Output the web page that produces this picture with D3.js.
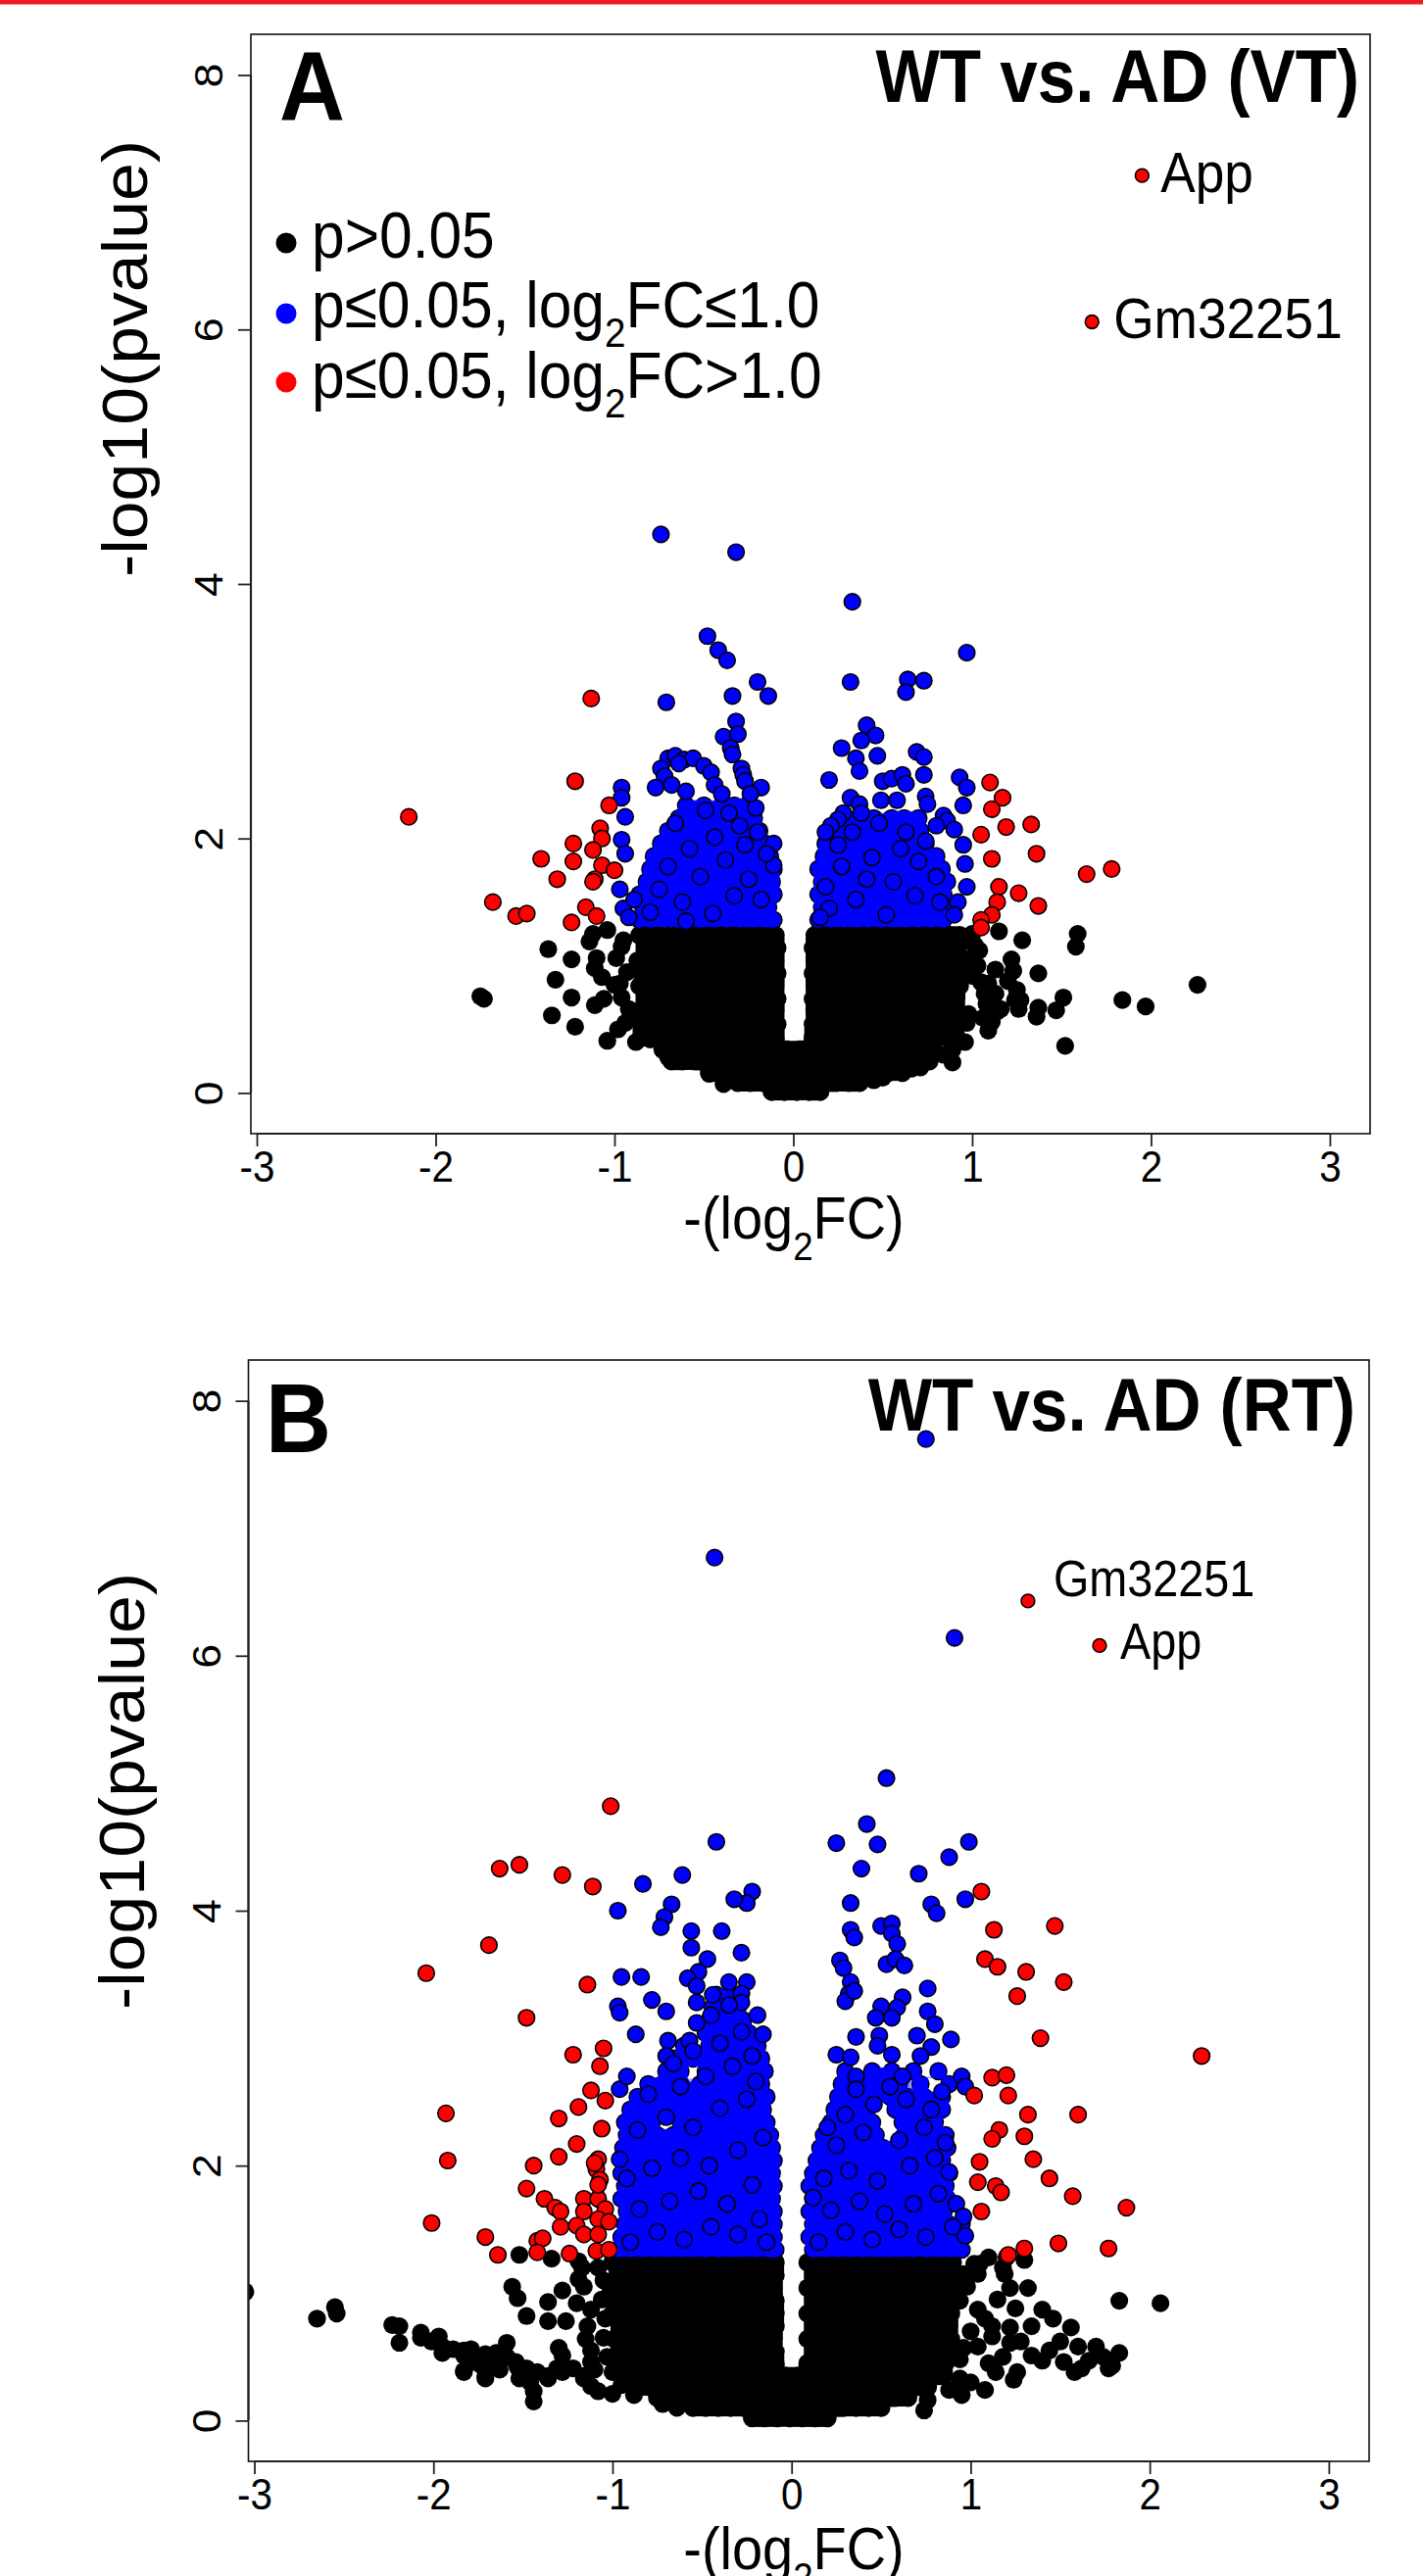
<!DOCTYPE html>
<html><head><meta charset="utf-8">
<script src="https://cdn.jsdelivr.net/npm/d3@7"></script>
<style>
body{margin:0;background:#fff}
svg{display:block}
text{font-family:"Liberation Sans",Arial,Helvetica,sans-serif;fill:#000}
</style></head>
<body><svg id="c" width="1452" height="2629"></svg>
<script>
// ---------------- data ----------------
const xTicks = [-3,-2,-1,0,1,2,3];
const yTicks = [0,2,4,6,8];
const xDomain = [-3.033, 3.225];
const yDomain = [-0.32, 8.32];
const legendLabels = ["p>0.05", "p\u22640.05, log2FC\u22641.0", "p\u22640.05, log2FC>1.0"];
const legendColors = ["#000000", "#0000ff", "#ff0000"];

// Panel A (VT): dense non-significant core, rows of [ -log10 p , [ -log2FC ... ] ]
const vtBlackRows = [
 [1.24,[-0.86,-0.79,-0.73,-0.65,-0.58,-0.52,-0.44,-0.37,-0.31,-0.23,-0.16,-0.10,0.12,0.19,0.25,0.33,0.40,0.46,0.54,0.61,0.67,0.75,0.82,0.88,0.93]],
 [1.14,[-0.83,-0.76,-0.70,-0.62,-0.55,-0.49,-0.41,-0.34,-0.28,-0.20,-0.13,-0.09,0.11,0.16,0.22,0.30,0.37,0.43,0.51,0.57,0.64,0.72,0.78,0.85,0.92]],
 [1.04,[-0.87,-0.79,-0.72,-0.66,-0.58,-0.51,-0.45,-0.37,-0.30,-0.24,-0.16,-0.10,0.12,0.19,0.26,0.33,0.39,0.47,0.54,0.60,0.68,0.75,0.81,0.88,0.93]],
 [0.94,[-0.84,-0.77,-0.69,-0.62,-0.56,-0.48,-0.41,-0.35,-0.27,-0.20,-0.14,-0.09,0.11,0.16,0.23,0.29,0.37,0.44,0.50,0.58,0.65,0.71,0.79,0.86,0.92]],
 [0.84,[-0.86,-0.80,-0.73,-0.65,-0.59,-0.51,-0.44,-0.38,-0.30,-0.23,-0.17,-0.10,0.12,0.19,0.26,0.32,0.40,0.47,0.53,0.61,0.68,0.74,0.82,0.88,0.93]],
 [0.74,[-0.83,-0.76,-0.70,-0.62,-0.55,-0.48,-0.42,-0.34,-0.27,-0.21,-0.13,-0.09,0.11,0.16,0.22,0.30,0.36,0.43,0.51,0.57,0.64,0.72,0.78,0.85,0.91]],
 [0.64,[-0.87,-0.79,-0.72,-0.66,-0.58,-0.51,-0.45,-0.37,-0.30,-0.24,-0.16,-0.10,0.12,0.19,0.26,0.33,0.39,0.47,0.54,0.60,0.68,0.75,0.81,0.88,0.92]],
 [0.54,[-0.85,-0.77,-0.69,-0.63,-0.56,-0.48,-0.41,-0.35,-0.27,-0.20,-0.14,-0.09,0.11,0.16,0.23,0.29,0.37,0.44,0.50,0.58,0.65,0.71,0.79,0.86,0.89]],
 [0.44,[-0.85,-0.80,-0.73,-0.65,-0.59,-0.51,-0.44,-0.38,-0.30,-0.23,-0.17,-0.10,0.11,0.19,0.26,0.32,0.40,0.47,0.53,0.61,0.68,0.74,0.82,0.87]],
 [0.34,[-0.73,-0.66,-0.60,-0.52,-0.45,-0.38,-0.31,-0.24,-0.17,-0.10,-0.03,0.03,0.10,0.17,0.23,0.30,0.37,0.43,0.51,0.57,0.64,0.71,0.78]],
 [0.25,[-0.68,-0.62,-0.55,-0.48,-0.41,-0.35,-0.27,-0.20,-0.14,-0.07,0.00,0.07,0.13,0.20,0.27,0.34,0.40,0.47,0.54,0.61,0.68,0.76]],
 [0.16,[-0.47,-0.41,-0.34,-0.27,-0.21,-0.14,-0.07,-0.01,0.06,0.13,0.19,0.26,0.33,0.40,0.46,0.53,0.61]],
 [0.08,[-0.31,-0.24,-0.17,-0.10,-0.04,0.03,0.10,0.17,0.24,0.31,0.37]],
 [0.01,[-0.12,-0.05,0.02,0.09,0.15]]
];
const vtBlackPts = [
 [-1.37,1.13],[-1.24,1.05],[-1.14,1.19],[-1.12,1.25],[-1.04,1.28],[-1.10,1.06],[-1.11,0.98],[-1.07,0.91],[-1.00,0.85],[-0.99,1.06],
 [-1.33,0.89],[-1.75,0.76],[-1.73,0.74],[-1.24,0.75],[-1.35,0.61],[-1.22,0.52],[-1.11,0.69],[-1.06,0.74],[-1.04,0.41],[-0.85,0.43],
 [-0.80,0.42],[-0.70,0.28],[-0.59,0.28],[-0.91,0.62],[-0.39,0.07],[-0.95,1.20],[-0.93,0.95],[-0.96,0.75],[-0.94,0.55],[-0.98,0.50],
 [-0.96,1.15],[-0.97,0.86],[-0.92,0.66],[-0.67,0.34],[-0.47,0.15],[-0.43,0.17],[-0.88,0.40],[-0.76,0.45],
 [1.15,1.27],[1.28,1.20],[1.59,1.25],[1.58,1.15],[1.22,1.05],[1.13,0.97],[1.23,0.96],[1.37,0.94],[2.26,0.85],[1.03,1.00],
 [1.05,0.87],[1.13,0.78],[1.24,0.73],[1.26,0.66],[1.14,0.64],[1.08,0.70],[1.51,0.75],[1.47,0.65],[1.37,0.67],[1.36,0.60],
 [1.84,0.73],[1.97,0.68],[1.52,0.37],[1.06,0.59],[1.09,0.49],[1.11,0.56],[0.91,0.46],[0.89,0.34],[0.89,0.24],[0.45,0.10],
 [0.50,0.12],[0.66,0.19],[0.71,0.20],[1.00,1.25],[1.02,1.15],[0.98,0.62],[0.96,0.40],[0.97,0.55],[1.01,1.17],[1.04,1.12],
 [1.00,1.06],[0.98,0.99],[1.00,0.92],[1.09,0.86],[1.07,0.78],[1.20,0.88],[1.25,0.81],[1.27,0.73],[1.16,0.66],[0.84,0.30]
];
const vtBlueRows = [
 [1.36,[-0.86,-0.79,-0.72,-0.65,-0.58,-0.51,-0.44,-0.37,-0.30,-0.23,-0.16,-0.11,0.14,0.21,0.28,0.35,0.42,0.49,0.56,0.63,0.70,0.77,0.84]],
 [1.46,[-0.84,-0.77,-0.70,-0.63,-0.56,-0.49,-0.42,-0.35,-0.28,-0.21,-0.14,0.16,0.24,0.31,0.38,0.45,0.52,0.59,0.66,0.73,0.80,0.87]],
 [1.56,[-0.86,-0.79,-0.72,-0.65,-0.58,-0.51,-0.44,-0.37,-0.30,-0.23,-0.16,-0.11,0.14,0.21,0.28,0.35,0.42,0.49,0.56,0.63,0.70,0.77,0.84]],
 [1.66,[-0.82,-0.75,-0.68,-0.61,-0.54,-0.47,-0.40,-0.33,-0.26,-0.19,-0.12,0.16,0.24,0.31,0.38,0.45,0.52,0.59,0.66,0.73,0.80,0.86]],
 [1.76,[-0.80,-0.72,-0.65,-0.58,-0.51,-0.44,-0.37,-0.30,-0.23,-0.16,-0.11,0.14,0.21,0.28,0.35,0.42,0.49,0.56,0.63,0.70,0.77,0.83]],
 [1.86,[-0.78,-0.68,-0.61,-0.54,-0.47,-0.40,-0.33,-0.26,-0.19,-0.13,0.17,0.24,0.31,0.38,0.45,0.52,0.59,0.66,0.73,0.80]],
 [1.96,[-0.74,-0.65,-0.58,-0.51,-0.44,-0.37,-0.30,-0.23,-0.16,0.18,0.25,0.32,0.39,0.46,0.53,0.60,0.67,0.74]],
 [2.06,[-0.70,-0.61,-0.54,-0.47,-0.40,-0.33,-0.26,-0.19,0.22,0.29,0.36,0.43,0.50,0.57,0.64,0.71]],
 [2.16,[-0.64,-0.57,-0.50,-0.43,-0.36,-0.29,-0.22,0.30,0.38,0.45,0.55,0.62,0.70]],
 [2.26,[-0.60,-0.50,-0.40,-0.33,-0.26]]
];
const vtBluePts = [
 [-0.74,4.39],[-0.32,4.25],[0.33,3.86],[-0.48,3.59],[-0.42,3.48],[-0.37,3.40],[0.97,3.46],[-0.20,3.23],[0.32,3.23],[0.64,3.25],
 [0.73,3.24],[0.63,3.15],[-0.34,3.12],[-0.14,3.12],[-0.71,3.07],[-0.32,2.92],[-0.39,2.80],[-0.31,2.82],[0.41,2.89],[0.46,2.81],
 [0.38,2.77],[0.27,2.71],[-0.35,2.71],[-0.34,2.66],[-0.70,2.63],[-0.66,2.65],[-0.61,2.62],[-0.56,2.63],[-0.64,2.59],[0.69,2.68],
 [0.73,2.64],[0.35,2.63],[0.47,2.65],[0.37,2.53],[0.20,2.46],[0.93,2.48],[0.97,2.40],[0.95,2.26],[-0.74,2.55],[-0.50,2.57],
 [-0.46,2.52],[-0.29,2.55],[-0.28,2.50],[-0.44,2.42],[-0.40,2.35],[-0.96,2.40],[-0.96,2.32],[-0.94,2.17],[-0.96,1.99],[-0.94,1.88],
 [-0.72,2.49],[-0.68,2.42],[-0.77,2.40],[-0.60,2.37],[0.50,2.45],[0.55,2.47],[0.61,2.50],[0.63,2.43],[0.73,2.50],[0.74,2.33],
 [0.75,2.27],[0.32,2.32],[0.37,2.27],[0.49,2.30],[0.58,2.30],[0.28,2.20],[0.25,2.15],[0.21,2.10],[0.18,2.05],[0.84,2.18],
 [0.86,2.14],[0.80,2.10],[0.90,2.07],[0.95,1.95],[0.96,1.80],[0.97,1.62],[0.92,1.50],[0.90,1.40],[-0.97,1.60],[-0.95,1.45],
 [-0.92,1.38],[-0.89,1.52],[-0.18,2.40],[-0.21,2.24],[-0.11,1.96],[-0.11,1.79],[-0.27,2.45],[-0.24,2.35],
 [-0.80,1.42],[-0.62,1.50],[-0.45,1.41],[-0.33,1.55],[-0.52,1.70],[-0.70,1.78],[-0.38,1.83],[-0.25,1.68],[-0.58,1.92],[-0.44,2.01],
 [-0.30,2.10],[-0.66,2.12],[-0.18,1.52],[-0.15,1.88],[-0.75,1.60],[-0.49,2.22],[-0.36,2.20],[-0.27,1.95],[-0.60,1.35],[-0.20,2.05],
 [0.20,1.45],[0.35,1.52],[0.52,1.40],[0.68,1.55],[0.80,1.70],[0.27,1.78],[0.44,1.85],[0.60,1.92],[0.74,1.98],[0.33,2.05],
 [0.48,2.12],[0.63,2.05],[0.18,1.62],[0.56,1.66],[0.41,1.68],[0.70,1.82],[0.25,1.95],[0.38,2.20],[0.82,1.50],[0.15,1.38]
];
const vtRedPts = [
 [-1.13,3.10],[-1.22,2.45],[1.10,2.44],[1.17,2.32],[1.11,2.23],[-1.03,2.26],[-2.15,2.17],[1.19,2.09],[1.33,2.11],[1.05,2.03],
 [1.11,1.84],[1.36,1.88],[1.64,1.72],[1.78,1.76],[-1.08,2.08],[-1.07,2.00],[-1.12,1.91],[-1.23,1.96],[-1.41,1.84],[-1.23,1.82],
 [-1.07,1.79],[-1.00,1.75],[-1.32,1.68],[-1.11,1.68],[-1.68,1.50],[-1.55,1.39],[-1.49,1.41],[-1.24,1.34],[-1.16,1.46],[-1.10,1.39],
 [-1.12,1.66],[1.15,1.62],[1.26,1.57],[1.14,1.50],[1.37,1.47],[1.11,1.40],[1.05,1.36],[1.05,1.30]
];
const vtLabelled = [["App",1.95,7.21],["Gm32251",1.67,6.06]];

// Panel B (RT)
const rtBlackRows = [
 [1.24,[-1.00,-0.93,-0.86,-0.80,-0.72,-0.65,-0.59,-0.51,-0.44,-0.38,-0.30,-0.23,-0.16,-0.09,0.09,0.16,0.23,0.30,0.37,0.44,0.51,0.58,0.65,0.72,0.79,0.85,0.90]],
 [1.14,[-0.97,-0.90,-0.83,-0.76,-0.69,-0.62,-0.55,-0.48,-0.41,-0.34,-0.27,-0.20,-0.13,-0.09,0.12,0.19,0.26,0.33,0.40,0.47,0.54,0.61,0.68,0.75,0.82,0.88]],
 [1.04,[-1.01,-0.94,-0.87,-0.79,-0.73,-0.66,-0.58,-0.52,-0.45,-0.37,-0.31,-0.24,-0.16,-0.10,0.09,0.15,0.22,0.29,0.37,0.43,0.50,0.58,0.64,0.71,0.79,0.85,0.90]],
 [0.94,[-0.97,-0.91,-0.83,-0.77,-0.69,-0.62,-0.56,-0.48,-0.41,-0.35,-0.27,-0.20,-0.14,-0.09,0.12,0.18,0.26,0.33,0.39,0.47,0.54,0.60,0.68,0.75,0.81,0.88]],
 [0.84,[-1.00,-0.93,-0.86,-0.79,-0.72,-0.66,-0.58,-0.51,-0.45,-0.37,-0.30,-0.24,-0.16,-0.09,0.09,0.16,0.23,0.30,0.36,0.44,0.51,0.57,0.65,0.72,0.78,0.85,0.89]],
 [0.74,[-0.96,-0.90,-0.83,-0.76,-0.70,-0.62,-0.55,-0.49,-0.41,-0.34,-0.28,-0.20,-0.13,-0.09,0.12,0.19,0.25,0.33,0.40,0.46,0.54,0.61,0.67,0.75,0.82,0.88]],
 [0.64,[-0.99,-0.93,-0.86,-0.79,-0.73,-0.65,-0.58,-0.52,-0.44,-0.37,-0.31,-0.23,-0.16,-0.10,0.09,0.16,0.22,0.30,0.37,0.43,0.51,0.58,0.64,0.72,0.79,0.85,0.89]],
 [0.54,[-0.96,-0.90,-0.83,-0.76,-0.69,-0.62,-0.56,-0.48,-0.41,-0.34,-0.27,-0.21,-0.13,-0.09,0.12,0.19,0.26,0.32,0.40,0.47,0.53,0.61,0.68,0.74,0.82,0.88]],
 [0.45,[-0.98,-0.92,-0.86,-0.79,-0.72,-0.65,-0.59,-0.51,-0.44,-0.38,-0.30,-0.23,-0.17,-0.09,0.09,0.16,0.23,0.29,0.37,0.44,0.50,0.58,0.65,0.71,0.79,0.86]],
 [0.35,[-0.93,-0.86,-0.79,-0.72,-0.65,-0.58,-0.51,-0.44,-0.37,-0.30,-0.23,-0.16,-0.09,-0.03,0.03,0.10,0.16,0.23,0.30,0.37,0.44,0.51,0.58,0.65,0.72,0.79,0.85]],
 [0.26,[-0.86,-0.78,-0.71,-0.64,-0.57,-0.50,-0.43,-0.36,-0.29,-0.22,-0.15,-0.08,-0.01,0.06,0.13,0.20,0.27,0.34,0.41,0.48,0.55,0.62,0.69,0.76]],
 [0.18,[-0.75,-0.68,-0.61,-0.54,-0.47,-0.40,-0.33,-0.26,-0.19,-0.12,-0.05,0.02,0.09,0.16,0.23,0.30,0.37,0.44,0.51,0.58,0.65]],
 [0.10,[-0.55,-0.48,-0.41,-0.34,-0.27,-0.20,-0.13,-0.06,0.01,0.08,0.15,0.22,0.29,0.36,0.43,0.50]],
 [0.02,[-0.22,-0.15,-0.08,-0.01,0.06,0.13,0.20]]
];
const rtBlackPts = [
 [-3.05,1.01],[-2.65,0.80],[-2.55,0.89],[-2.54,0.84],[-2.23,0.75],[-2.19,0.74],[-2.19,0.61],[-2.07,0.65],[-1.97,0.66],[-1.95,0.53],
 [-1.83,0.55],[-1.79,0.56],[-1.71,0.52],[-1.67,0.47],[-1.62,0.53],[-1.59,0.61],[-1.83,0.39],[-1.71,0.35],[-1.63,0.40],[-1.53,0.42],
 [-1.46,0.30],[-1.44,0.15],[-1.36,0.35],[-1.31,0.41],[-1.28,0.38],[-1.52,1.30],[-1.34,1.27],[-1.56,1.05],[-1.53,0.96],[-1.28,1.02],
 [-1.20,0.92],[-1.36,0.93],[-1.48,0.82],[-1.36,0.78],[-1.26,0.78],[-1.19,1.11],[-1.16,1.05],[-1.30,0.57],[-1.28,0.51],[-1.16,0.33],
 [-1.12,0.27],[-1.08,0.23],[-1.00,0.21],[-0.88,0.20],[-1.12,0.87],[-1.14,0.74],[-1.15,0.64],[-1.12,0.46],[-0.72,0.13],[-0.64,0.10],
 [-1.19,1.25],[-1.17,1.20],[-1.08,1.20],[-1.05,1.10],[-1.06,0.95],[-1.04,0.80],[-1.05,0.65],[-1.03,0.50],[-1.00,0.38],[-0.95,0.28],
 [-1.12,0.55],[-1.10,0.40],[-2.07,0.69],[-2.01,0.62],[-1.95,0.58],[-1.89,0.56],[-1.83,0.51],[-1.77,0.46],[-1.73,0.43],[-1.65,0.53],
 [-1.59,0.50],[-1.54,0.46],[-1.48,0.41],[-1.42,0.38],[-1.36,0.33],[-1.28,0.43],[-1.22,0.41],[-1.16,0.35],[-1.44,0.23],[-1.52,0.33],
 [-1.83,0.38],[-1.71,0.33],
 [1.05,1.23],[1.04,1.15],[1.18,1.20],[1.19,1.15],[1.22,1.04],[1.32,1.04],[1.83,0.94],[2.06,0.92],[1.04,0.87],[1.08,0.80],
 [1.12,0.74],[1.22,0.73],[1.34,0.74],[1.40,0.87],[1.46,0.80],[1.56,0.73],[1.04,0.58],[1.22,0.61],[1.50,0.62],[1.60,0.58],
 [1.70,0.58],[1.83,0.53],[1.34,0.51],[1.40,0.47],[1.52,0.46],[1.62,0.41],[1.79,0.43],[1.77,0.41],[1.26,0.38],[1.14,0.38],
 [1.24,0.32],[1.08,0.24],[0.88,0.24],[0.76,0.16],[0.74,0.08],[0.96,0.57],[0.94,0.48],[0.94,0.33],[0.90,0.99],[0.94,0.94],
 [0.96,1.15],[1.02,1.23],[1.10,1.28],[1.20,1.28],[1.30,1.26],[0.98,1.05],[1.00,0.70],[1.10,0.45],[1.18,0.50],[1.15,0.95],
 [1.25,0.88],[1.00,0.30],[0.95,0.20],[1.12,0.66],[1.28,0.62],[1.44,0.55],[1.66,0.47],[1.58,0.38],[1.74,0.50]
];
const rtBlueRows = [
 [1.34,[-0.97,-0.90,-0.83,-0.76,-0.69,-0.62,-0.55,-0.48,-0.41,-0.34,-0.27,-0.20,-0.13,-0.09,0.12,0.19,0.26,0.33,0.40,0.47,0.54,0.61,0.68,0.75,0.82,0.89,0.95]],
 [1.44,[-0.95,-0.87,-0.80,-0.73,-0.66,-0.59,-0.52,-0.45,-0.38,-0.31,-0.24,-0.17,-0.10,0.10,0.16,0.23,0.30,0.37,0.44,0.51,0.58,0.65,0.72,0.79,0.86,0.93]],
 [1.54,[-0.93,-0.86,-0.79,-0.72,-0.65,-0.58,-0.51,-0.44,-0.37,-0.30,-0.23,-0.16,-0.10,0.12,0.19,0.26,0.33,0.40,0.47,0.54,0.61,0.68,0.75,0.82,0.88,0.95]],
 [1.64,[-0.92,-0.84,-0.77,-0.70,-0.63,-0.56,-0.49,-0.42,-0.35,-0.28,-0.21,-0.14,-0.10,0.10,0.16,0.23,0.30,0.37,0.44,0.51,0.58,0.65,0.72,0.79,0.85]],
 [1.74,[-0.95,-0.86,-0.79,-0.72,-0.65,-0.58,-0.51,-0.44,-0.37,-0.30,-0.23,-0.16,-0.11,0.12,0.19,0.26,0.33,0.40,0.47,0.54,0.61,0.68,0.75,0.82,0.87]],
 [1.84,[-0.93,-0.84,-0.77,-0.70,-0.63,-0.56,-0.49,-0.42,-0.35,-0.28,-0.21,-0.14,-0.10,0.10,0.16,0.23,0.30,0.37,0.44,0.51,0.58,0.65,0.72,0.79,0.86]],
 [1.94,[-0.95,-0.86,-0.79,-0.72,-0.65,-0.58,-0.51,-0.44,-0.37,-0.30,-0.23,-0.16,-0.11,0.12,0.19,0.26,0.33,0.40,0.47,0.54,0.61,0.68,0.75,0.82,0.88]],
 [2.04,[-0.92,-0.84,-0.77,-0.70,-0.63,-0.56,-0.49,-0.42,-0.35,-0.28,-0.21,-0.14,-0.10,0.14,0.21,0.28,0.35,0.42,0.49,0.56,0.63,0.70,0.77,0.84]],
 [2.14,[-0.94,-0.86,-0.79,-0.70,-0.63,-0.56,-0.49,-0.42,-0.35,-0.28,-0.21,-0.14,-0.11,0.16,0.23,0.30,0.37,0.44,0.51,0.58,0.65,0.72,0.80,0.87]],
 [2.24,[-0.92,-0.83,-0.75,-0.66,-0.59,-0.52,-0.45,-0.38,-0.31,-0.24,-0.17,-0.12,0.18,0.25,0.33,0.40,0.47,0.63,0.70,0.78,0.86]],
 [2.34,[-0.93,-0.85,-0.78,-0.62,-0.55,-0.48,-0.41,-0.34,-0.27,-0.20,-0.14,0.22,0.30,0.38,0.45,0.62,0.70,0.80]],
 [2.44,[-0.90,-0.81,-0.73,-0.66,-0.58,-0.51,-0.44,-0.37,-0.30,-0.23,-0.16,0.24,0.32,0.42,0.58,0.66,0.76,0.84]],
 [2.54,[-0.86,-0.78,-0.70,-0.62,-0.55,-0.48,-0.41,-0.34,-0.27,-0.20,-0.14,0.26,0.35,0.46,0.55,0.65,0.74,0.84]],
 [2.64,[-0.80,-0.72,-0.62,-0.51,-0.44,-0.37,-0.30,-0.23,-0.17,0.28,0.40,0.50,0.60,0.72,0.88]],
 [2.74,[-0.70,-0.62,-0.48,-0.41,-0.34,-0.27,-0.20,-0.15,0.30,0.45,0.56,0.68,0.82]],
 [2.84,[-0.66,-0.55,-0.44,-0.37,-0.30,-0.23,-0.17]],
 [2.94,[-0.60,-0.46,-0.40,-0.33,-0.26,-0.19]],
 [3.04,[-0.48,-0.42,-0.36,-0.30,-0.24]],
 [3.14,[-0.46,-0.39,-0.33,-0.27]],
 [3.24,[-0.44,-0.36,-0.30]],
 [3.34,[-0.42,-0.34]]
];
const rtBluePts = [
 [0.75,7.70],[-0.43,6.77],[0.91,6.14],[0.53,5.04],[0.42,4.68],[-0.42,4.54],[0.25,4.53],[0.48,4.52],[0.99,4.54],[0.88,4.42],
 [-0.83,4.21],[-0.61,4.28],[0.39,4.33],[0.71,4.29],[-0.22,4.15],[-0.25,4.06],[-0.32,4.09],[0.33,4.06],[0.78,4.05],[0.81,3.98],
 [0.97,4.09],[-0.67,4.05],[-0.97,4.00],[-0.71,3.95],[-0.73,3.87],[-0.56,3.84],[-0.39,3.84],[0.33,3.85],[0.35,3.79],[0.50,3.88],
 [0.56,3.90],[0.56,3.82],[0.59,3.74],[-0.56,3.71],[-0.47,3.62],[-0.28,3.67],[0.27,3.61],[0.29,3.55],[0.53,3.58],[0.58,3.62],
 [0.63,3.57],[-0.95,3.48],[-0.84,3.48],[-0.52,3.52],[-0.58,3.47],[-0.53,3.41],[-0.44,3.34],[-0.53,3.28],[-0.35,3.44],[-0.25,3.44],
 [-0.28,3.35],[-0.28,3.28],[0.33,3.44],[0.32,3.35],[0.30,3.29],[0.35,3.37],[0.76,3.39],[-0.78,3.30],[-0.97,3.25],[-0.96,3.20],
 [-0.70,3.21],[0.50,3.25],[0.62,3.32],[0.59,3.24],[0.47,3.16],[0.56,3.16],[0.76,3.21],[0.80,3.11],[-0.19,3.18],[-0.16,3.03],
 [-0.53,3.12],[-0.87,3.03],[-0.69,2.98],[-0.57,2.98],[0.36,3.01],[0.49,3.02],[0.48,2.94],[0.70,3.02],[0.89,2.99],[0.78,2.93],
 [0.25,2.87],[0.33,2.85],[0.56,2.87],[0.72,2.86],[-0.70,2.86],[-0.22,2.86],[0.95,2.70],[0.97,2.62],[0.84,2.58],[0.36,2.70],
 [0.62,2.70],[0.92,1.70],[0.96,1.60],[0.97,1.45],[-0.96,2.05],[-0.96,2.60],[-0.92,2.70],
 [-0.90,1.40],[-0.75,1.48],[-0.60,1.42],[-0.45,1.52],[-0.30,1.46],[-0.18,1.58],[-0.85,1.66],[-0.68,1.72],[-0.52,1.80],[-0.36,1.70],
 [-0.22,1.85],[-0.92,1.90],[-0.78,1.98],[-0.62,2.06],[-0.46,2.00],[-0.30,2.12],[-0.16,2.22],[-0.86,2.28],[-0.70,2.38],[-0.55,2.30],
 [-0.40,2.45],[-0.25,2.52],[-0.80,2.56],[-0.62,2.62],[-0.48,2.70],[-0.33,2.78],[-0.20,2.66],[-0.55,2.90],[-0.40,2.96],[-0.28,3.05],
 [-0.45,3.18],[-0.35,3.26],[-0.66,2.80],[-0.14,1.40],
 [0.15,1.40],[0.30,1.48],[0.45,1.42],[0.60,1.50],[0.75,1.44],[0.90,1.52],[0.22,1.65],[0.38,1.72],[0.52,1.62],[0.68,1.70],
 [0.82,1.78],[0.18,1.90],[0.32,1.96],[0.48,1.88],[0.66,2.00],[0.80,2.06],[0.25,2.16],[0.40,2.26],[0.60,2.20],[0.74,2.30],
 [0.86,2.18],[0.30,2.40],[0.46,2.48],[0.64,2.52],[0.78,2.44],[0.36,2.60],[0.55,2.62],[0.20,2.30],[0.88,1.95],[0.12,1.75]
];
const rtRedPts = [
 [-1.01,4.82],[-1.63,4.33],[-1.52,4.36],[-1.28,4.28],[-1.11,4.19],[-1.69,3.73],[-2.04,3.51],[-1.14,3.42],[-1.48,3.16],[-1.22,2.87],
 [-1.05,2.92],[-1.07,2.78],[-1.12,2.59],[-1.04,2.51],[-1.19,2.46],[-1.30,2.37],[-1.93,2.41],[-1.06,2.29],[-1.20,2.17],[-1.30,2.07],
 [-1.44,2.00],[-1.92,2.04],[-1.08,2.05],[-1.09,1.97],[-1.07,1.89],[-1.48,1.82],[-1.38,1.74],[-1.32,1.67],[-1.29,1.64],[-1.16,1.74],
 [-1.08,1.74],[-1.04,1.66],[-1.16,1.64],[-1.08,1.58],[-1.02,1.56],[-2.01,1.55],[-1.29,1.52],[-1.20,1.53],[-1.16,1.46],[-1.08,1.46],
 [-1.71,1.44],[-1.42,1.41],[-1.39,1.43],[-1.64,1.30],[-1.42,1.32],[-1.24,1.31],[-1.09,1.33],[-1.02,1.34],[-1.10,2.02],[-1.08,1.85],
 [1.06,4.15],[1.13,3.85],[1.47,3.88],[1.08,3.62],[1.15,3.56],[1.31,3.52],[1.52,3.44],[1.26,3.33],[1.39,3.00],[2.29,2.86],
 [1.12,2.69],[1.20,2.71],[1.02,2.55],[1.21,2.55],[1.32,2.40],[1.60,2.40],[1.16,2.28],[1.12,2.21],[1.30,2.23],[1.05,2.03],
 [1.35,2.05],[1.04,1.87],[1.14,1.84],[1.17,1.79],[1.44,1.90],[1.57,1.76],[1.87,1.67],[1.06,1.64],[1.49,1.39],[1.77,1.35],
 [1.30,1.35],[1.21,1.30]
];
const rtLabelled = [["Gm32251",1.32,6.43],["App",1.72,6.08]];

// ---------------- layout / style ----------------
const SQ = 0.917;               // horizontal squeeze of the reference lettering
const R_CORE = 9.5;             // black core dot radius
const R_OUT = 9.3, R_IN = 7.8;  // dense blue: outline / fill radius
const R_PT = 8.3, SW = 1.6;     // single points
const COL = {black:"#000000", blue:"#0000ff", red:"#ff0000"};

const panels = [
 {id:"A", letter:"A", title:"WT vs. AD (VT)", box:{l:256,r:1398,t:35,b:1157},
  blackRows:vtBlackRows, blackPts:vtBlackPts, blueRows:vtBlueRows, bluePts:vtBluePts, redPts:vtRedPts, labelled:vtLabelled,
  labelSize:58, labelOff:{App:[19,17],Gm32251:[22,17]}, legend:true,
  letterXY:[285,123], titleXY:[1387,104], xTitleY:1264, yTitleX:150, yTitleY:366},
 {id:"B", letter:"B", title:"WT vs. AD (RT)", box:{l:253.5,r:1397,t:1388,b:2512},
  blackRows:rtBlackRows, blackPts:rtBlackPts, blueRows:rtBlueRows, bluePts:rtBluePts, redPts:rtRedPts, labelled:rtLabelled,
  labelSize:51, labelOff:{App:[21,14],Gm32251:[26,-5]}, legend:false,
  letterXY:[271,1482], titleXY:[1383,1460], xTitleY:2622, yTitleX:147, yTitleY:1828}
];

const svg = d3.select("#c");
const defs = svg.append("defs");
const flt = defs.append("filter").attr("id","closeHoles")
  .attr("x","-5%").attr("y","-5%").attr("width","110%").attr("height","110%");
flt.append("feMorphology").attr("in","SourceGraphic").attr("operator","dilate").attr("radius",3).attr("result","d");
flt.append("feMorphology").attr("in","d").attr("operator","erode").attr("radius",3);

svg.append("rect").attr("x",0).attr("y",0).attr("width",1452).attr("height",4.5).attr("fill","#ed1c24");

function sqText(parent, X, Y, size, opts={}){
  return parent.append("text")
    .attr("transform",`translate(${X},${Y}) scale(${SQ},1)`)
    .attr("font-size",size)
    .attr("font-weight",opts.bold?"bold":"normal")
    .attr("text-anchor",opts.anchor||"start");
}
function withSub(t, str, subSize, shift){
  const i = str.indexOf("log2");
  if(i<0){ t.text(str); return; }
  t.append("tspan").text(str.slice(0,i+3));
  t.append("tspan").attr("font-size",subSize).attr("dy",shift).text("2");
  t.append("tspan").attr("dy",-shift).text(str.slice(i+4));
}
const flat = rows => rows.flatMap(([yy,xs]) => xs.map(xx => [xx,yy]));

panels.forEach(P => {
  const b = P.box;
  const x = d3.scaleLinear().domain(xDomain).range([b.l,b.r]);
  const y = d3.scaleLinear().domain(yDomain).range([b.b,b.t]);
  const g = svg.append("g");

  g.append("clipPath").attr("id","clip"+P.id).append("rect")
    .attr("x",b.l).attr("y",b.t).attr("width",b.r-b.l).attr("height",b.b-b.t);
  const pg = g.append("g").attr("clip-path",`url(#clip${P.id})`);

  // non-significant genes
  pg.append("g").attr("filter","url(#closeHoles)")
    .selectAll("circle").data(flat(P.blackRows)).join("circle")
    .attr("cx",d=>x(d[0])).attr("cy",d=>y(d[1])).attr("r",R_CORE).attr("fill",COL.black);
  pg.append("g").selectAll("circle").data(P.blackPts).join("circle")
    .attr("cx",d=>x(d[0])).attr("cy",d=>y(d[1])).attr("r",R_PT+SW/2).attr("fill",COL.black);
  // significant, dense cloud: outline layer then fill layer
  const dense = flat(P.blueRows);
  pg.append("g").selectAll("circle").data(dense).join("circle")
    .attr("cx",d=>x(d[0])).attr("cy",d=>y(d[1])).attr("r",R_OUT).attr("fill","#000");
  pg.append("g").attr("filter","url(#closeHoles)")
    .selectAll("circle").data(dense).join("circle")
    .attr("cx",d=>x(d[0])).attr("cy",d=>y(d[1])).attr("r",R_IN).attr("fill",COL.blue);
  // individual significant points
  const dot = (data,fill,r) => pg.append("g").selectAll("circle").data(data).join("circle")
    .attr("cx",d=>x(d[0])).attr("cy",d=>y(d[1])).attr("r",r).attr("fill",fill)
    .attr("stroke","#000").attr("stroke-width",SW);
  dot(P.bluePts, COL.blue, R_PT);
  dot(P.redPts, COL.red, R_PT);
  const lab = P.labelled.map(d=>[d[1],d[2],d[0]]);
  dot(lab, COL.red, 6.9);
  lab.forEach(d=>{
    const o = P.labelOff[d[2]];
    sqText(g, x(d[0])+o[0], y(d[1])+o[1], P.labelSize).text(d[2]);
  });

  // frame
  g.append("rect").attr("x",b.l).attr("y",b.t).attr("width",b.r-b.l).attr("height",b.b-b.t)
    .attr("fill","none").attr("stroke","#111").attr("stroke-width",1.6);

  // x axis
  const xa = g.append("g").attr("transform",`translate(0,${b.b})`)
    .call(d3.axisBottom(x).tickValues(xTicks).tickSize(13).tickSizeOuter(0).tickFormat(d=>String(d)));
  xa.select(".domain").attr("d",`M${x(xTicks[0])},0H${x(xTicks[xTicks.length-1])}`).attr("stroke","#222").attr("stroke-width",2.2);
  xa.selectAll(".tick line").attr("stroke","#222").attr("stroke-width",1.8);
  xa.selectAll(".tick text").attr("y",null).attr("dy",null)
    .attr("transform",`translate(0,49) scale(${SQ},1)`).attr("font-size",44)
    .attr("font-family",'"Liberation Sans",Arial,sans-serif').attr("fill","#000");

  // y axis
  const ya = g.append("g").attr("transform",`translate(${b.l},0)`)
    .call(d3.axisLeft(y).tickValues(yTicks).tickSize(13).tickSizeOuter(0).tickFormat(d=>String(d)));
  ya.select(".domain").attr("d",`M0,${y(yTicks[0])}V${y(yTicks[yTicks.length-1])}`).attr("stroke","#222").attr("stroke-width",2.2);
  ya.selectAll(".tick line").attr("stroke","#222").attr("stroke-width",1.8);
  ya.selectAll(".tick text").attr("x",null).attr("dy",null).attr("text-anchor","middle")
    .attr("transform",`translate(-29,0) rotate(-90) scale(${1/SQ},1)`).attr("font-size",41)
    .attr("font-family",'"Liberation Sans",Arial,sans-serif').attr("fill","#000");

  // axis titles
  const xt = sqText(g, 810, P.xTitleY, 61, {anchor:"middle"});
  withSub(xt, "-(log2FC)", 40, 22);
  g.append("text").attr("transform",`translate(${P.yTitleX},${P.yTitleY}) rotate(-90) scale(${1/SQ},1)`)
    .attr("font-size",64).attr("text-anchor","middle").text("-log10(pvalue)");

  // panel letter and title
  sqText(g, P.letterXY[0], P.letterXY[1], 101, {bold:true}).text(P.letter);
  sqText(g, P.titleXY[0], P.titleXY[1], 75.5, {bold:true, anchor:"end"}).text(P.title);

  // legend
  if(P.legend){
    const ly = [248,320,390], lb = [263,334,406];
    legendLabels.forEach((s,i)=>{
      g.append("circle").attr("cx",292).attr("cy",ly[i]).attr("r",10.5).attr("fill",legendColors[i]);
      withSub(sqText(g, 318, lb[i], 66), s, 42, 20);
    });
  }
});
</script>
</body></html>
